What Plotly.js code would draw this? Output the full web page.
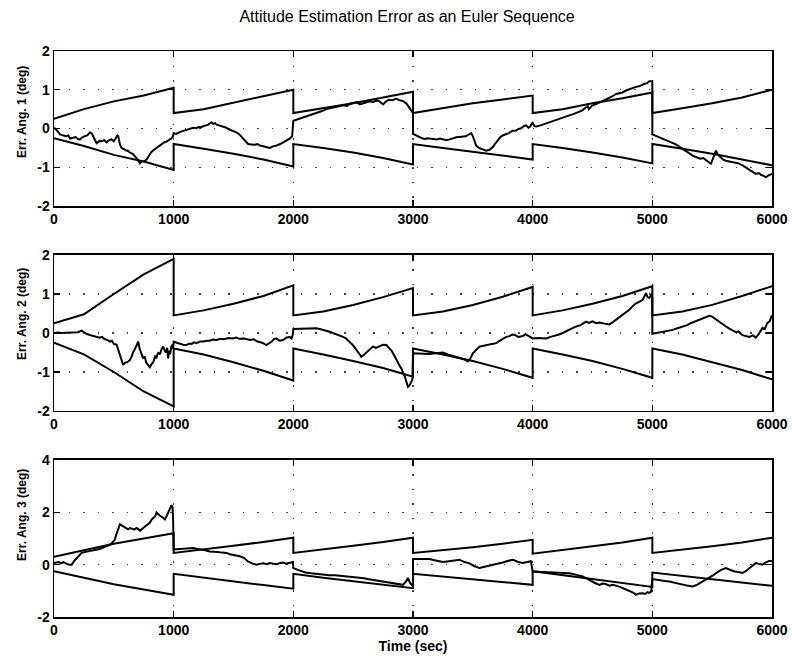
<!DOCTYPE html>
<html>
<head>
<meta charset="utf-8">
<script src="https://cdn.plot.ly/plotly-3.0.1.min.js"></script>
<style>html,body{margin:0;padding:0;background:#fff;}#chart{width:792px;height:661px;}</style>
</head>
<body>
<div id="chart"></div>
<script>
// ---- Data ----
const envT = [0,250,500,750,1000, 1000,1250,1500,1750,2000, 2000,2250,2500,2750,3000,
              3000,3250,3500,3750,4000, 4000,4250,4500,4750,5000, 5000,5250,5500,5750,6000];

const upper1 = [0.25,0.5,0.7,0.85,1.05, 0.4,0.5,0.66,0.82,1.0, 0.4,0.52,0.65,0.8,0.95,
                0.4,0.52,0.65,0.75,0.85, 0.4,0.5,0.65,0.78,0.93, 0.4,0.52,0.65,0.8,1.0];
const lower1 = [-0.25,-0.45,-0.68,-0.85,-1.07, -0.4,-0.52,-0.65,-0.8,-0.98, -0.4,-0.5,-0.62,-0.76,-0.93,
                -0.4,-0.5,-0.6,-0.7,-0.8, -0.4,-0.5,-0.62,-0.75,-0.9, -0.4,-0.52,-0.65,-0.8,-0.95];

const upper2 = [0.25,0.48,1.0,1.5,1.9, 0.45,0.58,0.75,0.95,1.22, 0.45,0.55,0.72,0.92,1.15,
                0.45,0.55,0.72,0.93,1.18, 0.45,0.58,0.75,0.95,1.2, 0.45,0.55,0.72,0.95,1.2];
const lower2 = [-0.25,-0.55,-1.0,-1.5,-1.88, -0.4,-0.55,-0.75,-0.97,-1.22, -0.4,-0.55,-0.72,-0.9,-1.12,
                -0.4,-0.55,-0.72,-0.92,-1.15, -0.4,-0.55,-0.72,-0.92,-1.15, -0.4,-0.55,-0.75,-0.95,-1.19];

const upper3 = [0.3,0.55,0.8,1.0,1.2, 0.45,0.58,0.72,0.87,1.03, 0.45,0.58,0.72,0.87,1.03,
                0.45,0.55,0.67,0.8,0.95, 0.42,0.55,0.7,0.85,1.03, 0.45,0.57,0.7,0.85,1.03];
const lower3 = [-0.25,-0.5,-0.75,-0.95,-1.15, -0.35,-0.5,-0.63,-0.78,-0.92, -0.35,-0.5,-0.63,-0.77,-0.9,
                -0.35,-0.45,-0.55,-0.66,-0.77, -0.25,-0.4,-0.55,-0.7,-0.85, -0.3,-0.43,-0.55,-0.68,-0.81];

const errT1 = [0,25,50,75,100,120,134,160,180,200,217,240,260,280,300,314,330,345,356,380,400,420,440,460,480,500,515,530,537,550,564,580,600,620,634,660,680,700,718,735,750,774,790,810,830,857,880,900,920,940,960,980,995,
  1000,1020,1040,1060,1080,1100,1120,1140,1163,1190,1210,1230,1246,1270,1290,1316,1330,1345,1360,1380,1400,1413,1440,1460,1490,1524,1545,1570,1600,1622,1650,1680,1700,1720,1740,1760,1780,1803,1830,1860,1890,1914,1935,1950,1970,1990,
  2000,2050,2100,2150,2200,2240,2276,2310,2350,2390,2420,2450,2471,2500,2530,2555,2580,2610,2640,2665,2693,2720,2750,2775,2800,2830,2860,2880,2900,2920,2944,2960,2975,2990,3000,
  3000,3025,3050,3075,3100,3120,3138,3170,3200,3225,3250,3280,3305,3330,3350,3370,3389,3415,3440,3465,3487,3500,3510,3528,3550,3570,3590,3612,3640,3667,3690,3710,3730,3750,3775,3800,3830,3862,3880,3900,3925,3946,3965,3980,3995,
  4000,4015,4030,4065,4100,4135,4168,4200,4230,4270,4307,4340,4380,4415,4447,4460,4470,4485,4500,4530,4558,4590,4620,4660,4697,4720,4750,4780,4808,4840,4870,4900,4930,4955,4975,5000,
  5000,5040,5086,5110,5140,5170,5197,5230,5260,5300,5336,5370,5400,5425,5450,5470,5490,5510,5531,5550,5570,5590,5614,5650,5680,5720,5754,5780,5800,5830,5865,5890,5910,5930,5949,5975,6000];
const err1 = [0.02,-0.05,-0.15,-0.17,-0.2,-0.18,-0.26,-0.24,-0.22,-0.27,-0.28,-0.22,-0.2,-0.17,-0.1,-0.12,-0.22,-0.33,-0.38,-0.32,-0.33,-0.3,-0.36,-0.3,-0.28,-0.33,-0.26,-0.18,-0.2,-0.4,-0.5,-0.53,-0.56,-0.58,-0.62,-0.66,-0.72,-0.8,-0.9,-0.84,-0.85,-0.8,-0.72,-0.62,-0.56,-0.5,-0.46,-0.42,-0.36,-0.34,-0.3,-0.26,-0.2,
  -0.12,-0.14,-0.1,-0.08,-0.06,-0.04,-0.02,0.0,0.02,0.01,0.04,0.03,0.06,0.08,0.1,0.16,0.12,0.14,0.1,0.08,0.06,0.05,0.02,-0.02,-0.05,-0.1,-0.14,-0.22,-0.32,-0.4,-0.41,-0.42,-0.4,-0.44,-0.45,-0.46,-0.48,-0.5,-0.46,-0.44,-0.4,-0.36,-0.33,-0.3,-0.26,-0.2,
  0.2,0.25,0.3,0.36,0.42,0.45,0.5,0.52,0.55,0.58,0.6,0.58,0.64,0.66,0.68,0.62,0.64,0.68,0.7,0.68,0.72,0.7,0.62,0.7,0.74,0.73,0.77,0.74,0.72,0.7,0.65,0.58,0.5,0.45,0.4,
  -0.14,-0.18,-0.22,-0.25,-0.27,-0.25,-0.26,-0.27,-0.28,-0.26,-0.27,-0.3,-0.28,-0.25,-0.24,-0.22,-0.22,-0.2,-0.2,-0.16,-0.12,-0.2,-0.3,-0.44,-0.5,-0.52,-0.55,-0.57,-0.55,-0.48,-0.38,-0.3,-0.22,-0.18,-0.15,-0.12,-0.06,-0.05,-0.01,0.0,0.06,0.08,0.02,0.05,0.14,
  0.15,0.06,0.05,0.08,0.12,0.16,0.2,0.22,0.26,0.3,0.34,0.37,0.42,0.47,0.55,0.58,0.5,0.55,0.6,0.63,0.67,0.72,0.75,0.82,0.89,0.9,0.93,0.98,1.02,1.05,1.08,1.1,1.15,1.17,1.22,1.22,
  -0.15,-0.2,-0.27,-0.29,-0.32,-0.36,-0.41,-0.48,-0.55,-0.62,-0.7,-0.75,-0.78,-0.76,-0.82,-0.86,-0.91,-0.75,-0.57,-0.68,-0.75,-0.8,-0.83,-0.86,-0.88,-0.9,-0.95,-1.0,-1.05,-1.1,-1.17,-1.15,-1.2,-1.22,-1.26,-1.2,-1.17];

const errT2 = [0,30,60,100,134,170,200,231,250,270,300,328,350,380,400,420,445,467,485,500,523,540,550,565,578,595,610,625,634,650,660,675,690,704,715,725,735,745,758,770,785,801,815,830,845,857,870,885,898,912,925,935,945,954,962,970,980,990,995,
  1000,1025,1050,1080,1107,1130,1150,1170,1191,1220,1250,1275,1300,1330,1358,1390,1420,1460,1497,1520,1550,1590,1636,1670,1700,1740,1775,1800,1820,1840,1859,1885,1914,1940,1970,1985,1995,
  2000,2050,2100,2150,2193,2220,2250,2280,2304,2330,2360,2390,2415,2440,2460,2480,2498,2515,2530,2550,2568,2590,2610,2635,2665,2690,2720,2750,2777,2800,2820,2840,2860,2875,2890,2905,2916,2930,2940,2950,2958,2970,2980,2995,
  3000,3050,3100,3138,3190,3250,3290,3333,3370,3400,3430,3458,3480,3500,3520,3556,3590,3620,3660,3695,3720,3750,3780,3806,3830,3850,3880,3917,3940,3960,3980,
  4000,4050,4112,4150,4180,4220,4251,4300,4350,4400,4447,4470,4500,4530,4558,4600,4641,4670,4700,4730,4752,4780,4810,4840,4864,4890,4919,4935,4947,4960,4975,4990,5000,
  5000,5040,5086,5130,5170,5210,5253,5290,5320,5360,5392,5430,5476,5500,5530,5560,5587,5610,5640,5670,5698,5720,5750,5780,5810,5840,5865,5890,5921,5940,5960,5980,6000];
const err2 = [0.0,0.01,0.0,0.01,0.0,0.01,0.02,0.06,0.02,-0.02,-0.05,-0.08,-0.1,-0.12,-0.1,-0.15,-0.18,-0.22,-0.2,-0.28,-0.3,-0.45,-0.55,-0.7,-0.82,-0.76,-0.75,-0.72,-0.69,-0.6,-0.5,-0.42,-0.3,-0.22,-0.4,-0.5,-0.55,-0.65,-0.6,-0.75,-0.82,-0.88,-0.8,-0.75,-0.6,-0.63,-0.5,-0.55,-0.42,-0.35,-0.45,-0.5,-0.38,-0.65,-0.45,-0.55,-0.35,-0.3,-0.4,
  -0.22,-0.25,-0.28,-0.3,-0.31,-0.27,-0.28,-0.24,-0.26,-0.22,-0.22,-0.2,-0.2,-0.17,-0.18,-0.15,-0.16,-0.13,-0.14,-0.12,-0.15,-0.14,-0.18,-0.16,-0.22,-0.25,-0.31,-0.26,-0.22,-0.15,-0.14,-0.2,-0.18,-0.12,-0.1,-0.14,-0.05,
  0.1,0.11,0.11,0.12,0.12,0.1,0.08,0.06,0.03,0.0,-0.03,-0.06,-0.1,-0.14,-0.2,-0.24,-0.31,-0.38,-0.45,-0.52,-0.61,-0.56,-0.5,-0.42,-0.35,-0.38,-0.33,-0.3,-0.31,-0.38,-0.45,-0.56,-0.69,-0.75,-0.85,-0.92,-1.03,-1.1,-1.2,-1.3,-1.38,-1.35,-1.3,-1.2,
  -0.52,-0.53,-0.55,-0.54,-0.52,-0.5,-0.55,-0.59,-0.62,-0.65,-0.68,-0.73,-0.65,-0.52,-0.45,-0.35,-0.33,-0.3,-0.28,-0.26,-0.2,-0.15,-0.1,-0.08,-0.04,-0.05,-0.1,-0.08,-0.03,-0.06,-0.1,
  -0.14,-0.13,-0.14,-0.1,-0.08,-0.04,0.0,0.08,0.15,0.2,0.29,0.26,0.3,0.25,0.27,0.24,0.22,0.28,0.35,0.4,0.46,0.52,0.6,0.7,0.76,0.8,0.85,0.95,1.02,0.92,0.9,0.98,0.93,
  -0.02,0.0,0.02,0.05,0.08,0.12,0.16,0.2,0.25,0.3,0.35,0.4,0.44,0.42,0.35,0.3,0.23,0.18,0.12,0.06,0.02,0.04,-0.05,-0.08,-0.1,-0.06,-0.12,-0.02,0.13,0.1,0.25,0.3,0.46];

const errT3 = [0,20,40,60,78,95,110,130,148,170,190,210,231,255,280,305,328,355,380,410,440,460,480,495,509,520,530,540,551,565,580,600,620,635,650,670,690,705,720,740,760,780,800,815,830,845,857,875,890,910,927,940,955,970,982,990,995,
  1000,1040,1080,1120,1163,1200,1230,1265,1302,1335,1370,1405,1441,1470,1500,1530,1553,1590,1620,1655,1692,1720,1750,1780,1803,1830,1860,1890,1914,1940,1960,1980,1997,
  2000,2050,2100,2150,2200,2250,2300,2350,2400,2440,2471,2510,2550,2590,2620,2660,2700,2749,2790,2830,2870,2916,2940,2958,2975,3000,
  3000,3070,3138,3170,3200,3250,3285,3320,3355,3389,3430,3472,3510,3556,3580,3600,3639,3670,3700,3730,3750,3790,3834,3860,3880,3917,3950,3985,
  4000,4070,4140,4220,4307,4360,4418,4450,4480,4520,4558,4585,4610,4640,4669,4700,4730,4755,4780,4805,4830,4850,4864,4890,4919,4940,4960,4975,4990,
  5000,5035,5070,5105,5142,5190,5240,5290,5336,5370,5400,5440,5476,5510,5540,5575,5614,5650,5680,5720,5754,5780,5810,5840,5865,5890,5921,5945,5960,5980,6000];
const err3 = [0.06,0.08,0.1,0.05,0.1,0.06,0.02,0.0,0.0,0.15,0.25,0.35,0.45,0.48,0.5,0.52,0.55,0.56,0.6,0.65,0.7,0.75,0.8,0.9,0.96,1.15,1.3,1.45,1.54,1.5,1.45,1.4,1.35,1.4,1.38,1.35,1.4,1.35,1.3,1.38,1.45,1.5,1.6,1.72,1.8,1.85,1.99,1.9,1.85,1.8,1.73,1.85,2.0,2.15,2.27,2.2,1.8,
  0.58,0.6,0.6,0.62,0.64,0.6,0.58,0.55,0.5,0.5,0.48,0.46,0.45,0.4,0.38,0.34,0.32,0.25,0.12,0.05,0.0,0.03,0.05,0.02,0.06,0.04,0.02,0.06,0.08,0.04,0.05,0.08,0.1,
  -0.13,-0.22,-0.3,-0.33,-0.36,-0.38,-0.4,-0.4,-0.42,-0.44,-0.45,-0.47,-0.5,-0.52,-0.55,-0.58,-0.62,-0.64,-0.67,-0.7,-0.72,-0.77,-0.65,-0.51,-0.7,-0.83,
  0.22,0.23,0.22,0.18,0.15,0.1,0.12,0.15,0.17,0.19,0.1,0.05,-0.05,-0.13,-0.1,-0.08,-0.04,-0.01,0.02,0.05,0.08,0.14,0.19,0.14,0.1,0.06,0.1,0.13,
  -0.26,-0.28,-0.3,-0.3,-0.33,-0.38,-0.45,-0.52,-0.6,-0.7,-0.77,-0.72,-0.74,-0.8,-0.77,-0.8,-0.85,-0.9,-0.94,-0.98,-1.05,-1.1,-1.15,-1.1,-1.09,-1.12,-1.05,-1.08,-1.03,
  -0.55,-0.58,-0.6,-0.62,-0.64,-0.7,-0.75,-0.8,-0.83,-0.78,-0.7,-0.6,-0.51,-0.4,-0.3,-0.2,-0.13,-0.2,-0.25,-0.28,-0.32,-0.25,-0.15,-0.05,0.06,0.03,0.0,0.08,0.1,0.15,0.13];

const xTicks = [0,1000,2000,3000,4000,5000,6000];
const yTicks12 = [-2,-1,0,1,2];
const yTicks3 = [-2,0,2,4];
const yLabels = ['Err. Ang. 1 (deg)','Err. Ang. 2 (deg)','Err. Ang. 3 (deg)'];
const chartTitle = 'Attitude Estimation Error as an Euler Sequence';
const xLabel = 'Time (sec)';

// ---- Traces ----
const lineStyle = {color:'#000', width:2};
function tr(x, y, n){
  return {x:x, y:y, type:'scatter', mode:'lines', line:lineStyle,
          xaxis:n===1?'x':'x'+n, yaxis:n===1?'y':'y'+n, showlegend:false, hoverinfo:'skip'};
}
const traces = [
  tr(envT, upper1, 1), tr(envT, lower1, 1), tr(errT1, err1, 1),
  tr(envT, upper2, 2), tr(envT, lower2, 2), tr(errT2, err2, 2),
  tr(envT, upper3, 3), tr(envT, lower3, 3), tr(errT3, err3, 3)
];

const FAM = 'Liberation Sans, Arial, Helvetica, sans-serif';
const tickFont = {family:FAM, size:14, color:'#000', weight:'bold'};
const labFont = {family:FAM, size:12, color:'#000', weight:'bold'};
const grid = {showgrid:true, gridcolor:'#444', gridwidth:1.2, griddash:'1.5px,13px'};

function xax(anchor, title){
  const a = Object.assign({
    range:[0,6000], tickvals:xTicks, ticktext:xTicks.map(String),
    ticks:'inside', ticklen:6, tickwidth:1.2, tickcolor:'#000',
    showline:true, linecolor:'#000', linewidth:1.5, mirror:'ticks',
    zeroline:false, tickfont:tickFont, anchor:anchor, fixedrange:true
  }, grid);
  if (title) a.title = {text:title, font:{family:FAM, size:14, color:'#000', weight:'bold'}, standoff:2};
  return a;
}
function yax(range, ticks, dom, anchor){
  return Object.assign({
    range:range, tickvals:ticks, ticktext:ticks.map(String), domain:dom,
    ticks:'inside', ticklen:6, tickwidth:1.2, tickcolor:'#000',
    showline:true, linecolor:'#000', linewidth:1.5, mirror:'ticks',
    zeroline:false, tickfont:tickFont, anchor:anchor, fixedrange:true
  }, grid);
}

// y-label positions (paper coords): plot area spans y=51..617 px, x=54..772 px
const labX = (22 - 54) / 718;
const labY = [112, 314, 515].map(py => (617 - py) / 566);
const annotations = yLabels.map((t, i) => ({
  text:t, xref:'paper', yref:'paper', x:labX, y:labY[i], xanchor:'center', yanchor:'middle',
  textangle:-90, showarrow:false, font:labFont
}));

const layout = {
  width:792, height:661,
  margin:{l:54, r:20, t:51, b:44},
  paper_bgcolor:'#fff', plot_bgcolor:'#fff',
  title:{text:chartTitle, font:{family:FAM, size:16, color:'#000'},
         x:0.514, xanchor:'center', y:1-16/661, yanchor:'middle', yref:'container', xref:'container'},
  xaxis: xax('y'), yaxis: yax([-2,2], yTicks12, [0.7261,1], 'x'),
  xaxis2: xax('y2'), yaxis2: yax([-2,2], yTicks12, [0.364,0.6396], 'x2'),
  xaxis3: xax('y3', xLabel), yaxis3: yax([-2,4], yTicks3, [0,0.2774], 'x3'),
  annotations: annotations,
  showlegend:false
};

Plotly.newPlot('chart', traces, layout, {displayModeBar:false, staticPlot:true});
</script>
</body>
</html>
